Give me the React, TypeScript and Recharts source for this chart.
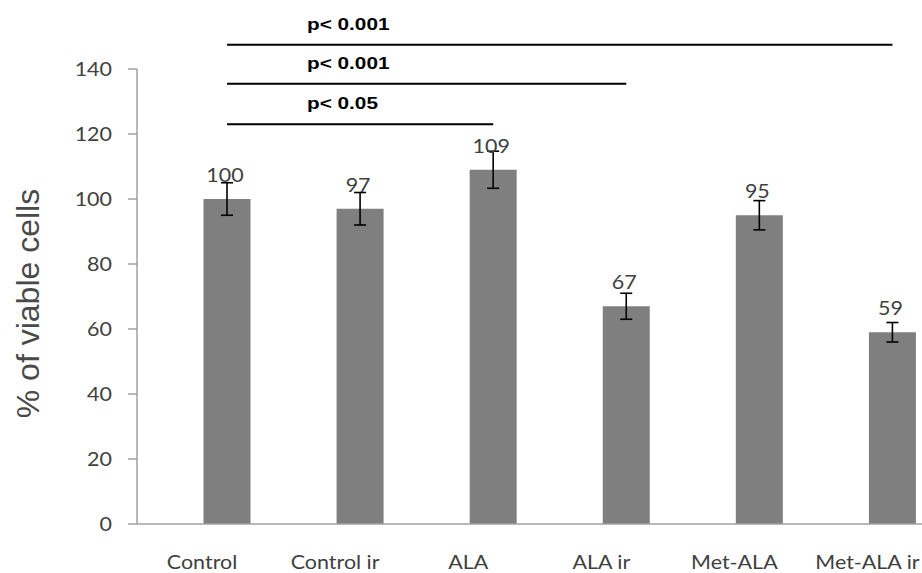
import React from 'react';
import { BarChart, Bar, XAxis, YAxis, ErrorBar, LabelList, ReferenceLine, Label } from 'recharts';

const categories = ['Control', 'Control ir', 'ALA', 'ALA ir', 'Met-ALA', 'Met-ALA ir'];
const viability = [100, 97, 109, 67, 95, 59];
const errors = [5, 5, 5.7, 4, 4.5, 3];
const yTicks = [0, 20, 40, 60, 80, 100, 120, 140];

const brackets = [
  { from: 'Control', to: 'Met-ALA ir', level: 147.5, text: 'p< 0.001' },
  { from: 'Control', to: 'ALA ir', level: 135.5, text: 'p< 0.001' },
  { from: 'Control', to: 'ALA', level: 123, text: 'p< 0.05' },
];

const data = categories.map((name, i) => ({ name, value: viability[i], err: errors[i] }));

const STRETCH = 1.13;
const FONT = 'Lato, "Open Sans", sans-serif';
const TEXT_COLOR = '#404040';
const AXIS_COLOR = '#a0a0a0';

function SText(props: any) {
  const { x, y, anchor = 'middle', size = 19, fill = TEXT_COLOR, weight = 'normal', family = FONT, dy = 0, sx = STRETCH, children } = props;
  return (
    <g transform={`translate(${x},${y}) scale(${sx},1)`}>
      <text x={0} y={0} dy={dy} textAnchor={anchor} fontSize={size} fill={fill} fontWeight={weight} fontFamily={family}>
        {children}
      </text>
    </g>
  );
}

const YTick = (props: any) => {
  const { x, y, payload } = props;
  return <SText x={x} y={y} anchor="end" dy="0.36em">{payload.value}</SText>;
};

const XTick = (props: any) => {
  const { x, y, payload } = props;
  return <SText x={Number(x) - 25} y={Number(y) + 45}>{payload.value}</SText>;
};

const ValueLabel = (props: any) => {
  const { x, y, width, value } = props;
  return <SText x={Number(x) + Number(width) / 2 - 2} y={Number(y) - 17}>{value}</SText>;
};

const makeBracketLabel = (text: string) => (props: any) => {
  const vb = props.viewBox || {};
  return (
    <SText x={Number(vb.x) + 80} y={Number(vb.y) - 15} anchor="start" size={17} weight="bold" fill="#000" family='"Liberation Sans", Arial, sans-serif' sx={1.22}>
      {text}
    </SText>
  );
};

const YLabel = (props: any) => {
  const vb = props.viewBox || {};
  const cx = Number(vb.x) + 39;
  const cy = Number(vb.y) + Number(vb.height) / 2 + 7;
  return (
    <text x={cx} y={cy} transform={`rotate(-90, ${cx}, ${cy})`} textAnchor="middle" fontSize={32} fill="#4a4a4a" fontFamily='"Liberation Sans", Arial, sans-serif'>
      % of viable cells
    </text>
  );
};

export default function App() {
  return (
    <div style={{ position: 'absolute', left: 0, top: 0, width: 922, height: 573, overflow: 'hidden', background: '#fff' }}>
      <BarChart width={959} height={573} data={data} margin={{ top: 69, right: 0, bottom: 0, left: 0 }} barSize={47}>
        <XAxis
          dataKey="name"
          height={49}
          padding={{ left: 23.5, right: 0 }}
          tickSize={0}
          tickMargin={0}
          tickLine={false}
          axisLine={{ stroke: AXIS_COLOR, strokeWidth: 1.5 }}
          interval={0}
          tick={<XTick />}
        />
        <YAxis
          width={137}
          domain={[0, 140]}
          ticks={yTicks}
          tickSize={9}
          tickMargin={16}
          axisLine={{ stroke: AXIS_COLOR, strokeWidth: 1.5 }}
          tickLine={{ stroke: AXIS_COLOR, strokeWidth: 1.5 }}
          tick={<YTick />}
          interval={0}
        >
          <Label content={<YLabel />} position="insideLeft" />
        </YAxis>
        <Bar dataKey="value" fill="#7f7f7f" isAnimationActive={false}>
          <ErrorBar dataKey="err" width={6} stroke="#000" strokeWidth={1.6} direction="y" />
          <LabelList dataKey="value" content={<ValueLabel />} />
        </Bar>
        {brackets.map((b, i) => (
          <ReferenceLine
            key={i}
            segment={[{ x: b.from, y: b.level }, { x: b.to, y: b.level }]}
            stroke="#000"
            strokeWidth={2}
            ifOverflow="visible"
            label={makeBracketLabel(b.text)}
          />
        ))}
      </BarChart>
    </div>
  );
}
